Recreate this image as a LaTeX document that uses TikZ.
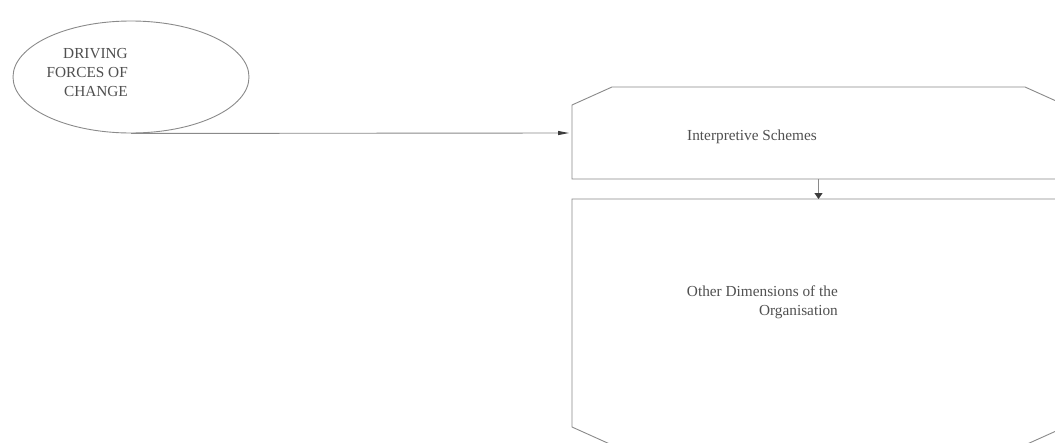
\documentclass[tikz,border=0pt]{standalone}
\usepackage{fontspec}
\setmainfont{Liberation Serif}
\usetikzlibrary{shapes.geometric,arrows.meta}
\definecolor{linegray}{HTML}{8A8A8A}
\definecolor{textgray}{HTML}{505050}
\definecolor{tipgray}{HTML}{3C3C3C}
\begin{document}
\begin{tikzpicture}[x=1pt,y=-1pt,
  outline/.style={draw=linegray,line width=0.9pt},
  label/.style={text=textgray,font=\fontsize{15.3}{19}\selectfont,inner sep=0pt},
  flow/.style={draw=linegray,line width=0.9pt},
  longtip/.style={-{Triangle[length=11pt,width=4pt,color=tipgray]}},
  shorttip/.style={-{Triangle[length=6pt,width=8pt,color=tipgray]}},
  panel/.style={rectangle,minimum width=493pt,inner sep=0pt,outer sep=0pt}]
  \useasboundingbox[fill=white] (0,0) rectangle (1055,442);
  \clip (0,0) rectangle (1055,442);

  % driving forces
  \node[outline,ellipse,minimum width=236pt,minimum height=112pt,inner sep=0pt] (drive) at (131,77) {};
  \node[label,align=right,anchor=east] (drivetext) at (128,73) {DRIVING\\FORCES OF\\CHANGE};

  % interpretive schemes panel: chamfered on the two top corners
  \node[panel,minimum height=92pt] (schemes) at (818.5,133) {};
  \draw[outline] (schemes.south west) -- ([yshift=-18pt]schemes.north west)
    -- ([xshift=40pt]schemes.north west) -- ([xshift=-40pt]schemes.north east)
    -- ([yshift=-18pt]schemes.north east) -- (schemes.south east) -- cycle;
  \node[label] (schemestext) at (752,137) {Interpretive Schemes};

  % other dimensions panel: chamfered on the two bottom corners
  \node[panel,minimum height=246pt] (other) at (818.5,322) {};
  \draw[outline] (other.north west) -- ([yshift=18pt]other.south west)
    -- ([xshift=40pt]other.south west) -- ([xshift=-40pt]other.south east)
    -- ([yshift=18pt]other.south east) -- (other.north east) -- cycle;
  \node[label,align=right,anchor=east] (othertext) at (838,302) {Other Dimensions of the\\Organisation};

  % connectors
  \draw[flow,longtip] (drive.south) -- ([xshift=-3pt]schemes.west);
  \draw[flow,shorttip] (schemes.south) -- (other.north);
\end{tikzpicture}
\end{document}
